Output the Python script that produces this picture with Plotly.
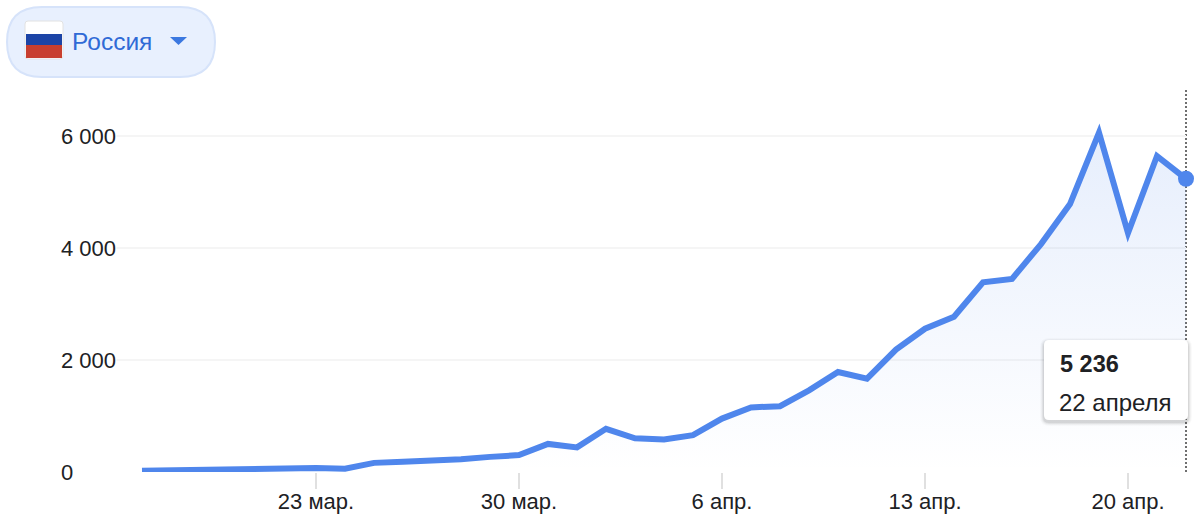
import plotly.graph_objects as go
import pandas as pd

W, H = 1200, 514
PL, PR, PT, PB = 60, 1186, 88, 472   # plot area in page pixels

dates = pd.date_range("2020-03-17", "2020-04-22").strftime("%Y-%m-%d").tolist()
values = [22, 30, 54, 53, 53, 60, 71, 57, 163, 182, 196, 228, 270, 302, 501, 440, 771,
          601, 582, 658, 954, 1154, 1175, 1459, 1786, 1667, 2186, 2558, 2774, 3388,
          3448, 4070, 4785, 6060, 4268, 5642, 5236]
x_ticks = ["2020-03-23", "2020-03-30", "2020-04-06", "2020-04-13", "2020-04-20"]
x_labels = ["23 мар.", "30 мар.", "6 апр.", "13 апр.", "20 апр."]
y_ticks = [0, 2000, 4000, 6000]
y_labels = ["0", "2 000", "4 000", "6 000"]
country = "Россия"
tip_value = "5 236"
tip_date = "22 апреля"

BLUE = "#4f86ec"
FONT = "Liberation Sans"
INK = "#202124"

def px(x):
    return (x - PL) / (PR - PL)

def py(y):
    return (PB - y) / (PB - PT)

def rrect(x0, y0, x1, y1, r):
    return (f"M{px(x0+r)},{py(y0)} L{px(x1-r)},{py(y0)} Q{px(x1)},{py(y0)} {px(x1)},{py(y0+r)} "
            f"L{px(x1)},{py(y1-r)} Q{px(x1)},{py(y1)} {px(x1-r)},{py(y1)} "
            f"L{px(x0+r)},{py(y1)} Q{px(x0)},{py(y1)} {px(x0)},{py(y1-r)} "
            f"L{px(x0)},{py(y0+r)} Q{px(x0)},{py(y0)} {px(x0+r)},{py(y0)} Z")

def paper_shape(path, fill, line=None, width=0):
    return dict(type="path", xref="paper", yref="paper", path=path, fillcolor=fill,
                line=dict(color=line or "rgba(0,0,0,0)", width=width), layer="above")

fig = go.Figure()
fig.add_trace(go.Scatter(
    x=dates, y=values, mode="lines", fill="tozeroy",
    line=dict(color=BLUE, width=6, shape="linear"),
    fillgradient=dict(type="vertical", colorscale=[[0, "rgba(79,134,236,0)"], [1, "rgba(79,134,236,0.14)"]]),
    hoverinfo="skip", cliponaxis=False,
))
fig.add_trace(go.Scatter(
    x=dates[-1:], y=values[-1:], mode="markers",
    marker=dict(color=BLUE, size=16), hoverinfo="skip", cliponaxis=False,
))

shapes = []
# dotted cursor (under the marker)
shapes.append(dict(type="line", xref="paper", yref="paper", x0=1, x1=1, y0=0, y1=1,
                   line=dict(color="#6f6f6f", width=2, dash="2px,2px"), layer="below"))
# tooltip shadow + body
for off, alpha in [(4, 0.02), (3, 0.03), (2, 0.05), (1, 0.06)]:
    shapes.append(paper_shape(rrect(1044 - off, 340 - off + 2, 1188 + off, 420 + off + 2, 5 + off),
                              f"rgba(0,0,0,{alpha})"))
shapes.append(paper_shape(rrect(1044, 340, 1188, 420, 5), "#ffffff"))
# selector pill
shapes.append(paper_shape(rrect(7, 7, 215, 77, 35), "#e8f0fe", "#d6e3fa", 2))
# flag
shapes.append(paper_shape(rrect(25, 21, 63, 59, 3), "#ffffff", "#e2e2e2", 1))
shapes.append(dict(type="rect", xref="paper", yref="paper", x0=px(26), x1=px(62), y0=py(34), y1=py(45),
                   fillcolor="#1c44a6", line=dict(width=0), layer="above"))
shapes.append(dict(type="rect", xref="paper", yref="paper", x0=px(26), x1=px(62), y0=py(45), y1=py(58),
                   fillcolor="#c83e2e", line=dict(width=0), layer="above"))
# drop-down caret
shapes.append(paper_shape(f"M{px(170)},{py(37)} L{px(187)},{py(37)} L{px(178.5)},{py(45)} Z", "#3b78e0"))

annotations = [
    dict(xref="paper", yref="paper", x=px(70), y=py(42), text=country, showarrow=False,
         xanchor="left", yanchor="middle", font=dict(family=FONT, size=24.5, color="#2f6ad6")),
    dict(xref="paper", yref="paper", x=px(1058), y=py(364), text=f"<b>{tip_value}</b>", showarrow=False,
         xanchor="left", yanchor="middle", font=dict(family=FONT, size=23.5, color=INK)),
    dict(xref="paper", yref="paper", x=px(1057), y=py(402), text=tip_date, showarrow=False,
         xanchor="left", yanchor="middle", font=dict(family=FONT, size=24, color=INK)),
]
for v, lab in zip(y_ticks, y_labels):
    annotations.append(dict(xref="paper", yref="y", x=0, y=v, text=lab, showarrow=False,
                            xanchor="left", yanchor="middle", bgcolor="white", borderpad=0,
                            font=dict(family=FONT, size=22, color=INK)))

DAY = 29.0
fig.update_layout(
    width=W, height=H, autosize=False, showlegend=False,
    margin=dict(l=PL, r=W - PR, t=PT, b=H - PB, pad=0),
    paper_bgcolor="white", plot_bgcolor="white",
    shapes=shapes, annotations=annotations,
    xaxis=dict(
        type="date", automargin=False,
        range=[pd.Timestamp("2020-03-17") - pd.Timedelta(days=(142 - PL) / DAY), "2020-04-22"],
        tickmode="array", tickvals=x_ticks, ticktext=x_labels,
        ticks="outside", ticklen=16, tickwidth=1.5, tickcolor="#e0e0e0",
        ticklabelstandoff=-6,
        showgrid=False, zeroline=False, showline=False,
        tickfont=dict(family=FONT, size=22, color=INK),
    ),
    yaxis=dict(
        automargin=False,
        range=[0, 384 / 0.056], tickmode="array", tickvals=y_ticks, ticktext=[""] * 4,
        showgrid=True, gridcolor="#f5f5f5", gridwidth=1.5, zeroline=False, showline=False, ticks="",
    ),
)
fig.write_html("out.html", config={"displayModeBar": False},
               post_script="document.body.style.margin='0';document.body.style.overflow='hidden';"
                           "document.querySelectorAll('.js-line').forEach(function(e){"
                           "e.style.strokeLinejoin='miter';e.style.strokeMiterlimit='10';});")
